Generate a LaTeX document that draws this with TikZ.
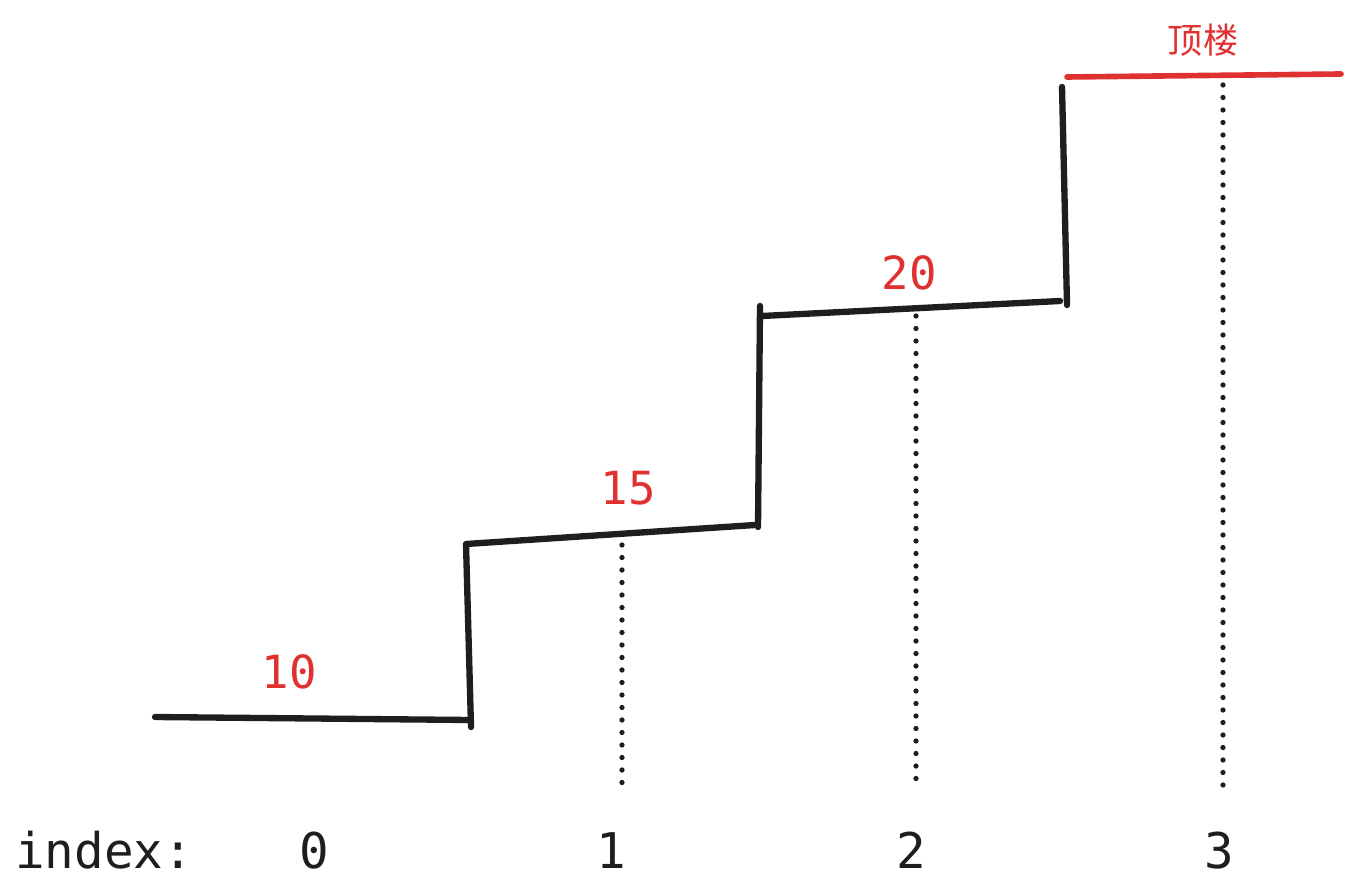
\documentclass[tikz,border=0pt]{standalone}
\usepackage{fontspec}
\usepackage{tikz}
\setmonofont{DejaVu Sans Mono}
\newfontfamily\cjk{Noto Sans CJK SC}
\definecolor{inkred}{HTML}{E03131}
\definecolor{ink}{HTML}{1E1E1E}
\tikzset{
    stair/.style={line width=3.6pt, ink, line cap=round, line join=round},
    guide/.style={line width=3pt, ink, line cap=round, dash pattern=on 0pt off 0.25cm},
    cost/.style={anchor=base, inkred, font=\ttfamily\fontsize{26}{26}\selectfont},
    idx/.style={anchor=base, ink, font=\ttfamily\fontsize{28}{28}\selectfont}
}

\begin{document}
\begin{tikzpicture}
    \useasboundingbox (0,0) rectangle (27,17.8);

    % The stair corners
    \coordinate (s0) at (3.10,3.46);
    \coordinate (s1) at (9.42,3.40);
    \coordinate (s1b) at (9.42,3.26);
    \coordinate (s1t) at (9.32,6.92);
    \coordinate (s2) at (15.10,7.30);
    \coordinate (s2b) at (15.16,7.26);
    \coordinate (s2t) at (15.20,11.68);
    \coordinate (s3) at (15.24,11.48);
    \coordinate (s4) at (21.20,11.78);
    \coordinate (s4b) at (21.34,11.70);
    \coordinate (s4t) at (21.24,16.06);

    % The steps
    \draw[stair] (s0) -- (s1);
    \draw[stair] (s1b) -- (s1t) -- (s2);
    \draw[stair] (s2b) -- (s2t);
    \draw[stair] (s3) -- (s4);
    \draw[stair] (s4b) -- (s4t);

    % The top floor
    \coordinate (top0) at (21.34,16.26);
    \coordinate (top1) at (26.82,16.32);
    \draw[line width=3.2pt, inkred, line cap=round] (top0) -- (top1);
    \node[anchor=base, inkred, font=\cjk\fontsize{20}{20}\selectfont] (toplbl) at (24.06,16.72) {顶楼};

    % The costs
    \node[cost] (c0) at (5.78,4.04) {10};
    \node[cost] (c1) at (12.56,7.72) {15};
    \node[cost] (c2) at (18.18,12.00) {20};

    % Dotted guides down to the indices
    \coordinate (g1t) at (12.44,6.90);
    \coordinate (g1b) at (12.44,2.00);
    \coordinate (g2t) at (18.32,11.48);
    \coordinate (g2b) at (18.32,2.00);
    \coordinate (g3t) at (24.46,16.10);
    \coordinate (g3b) at (24.46,2.00);
    \draw[guide] (g1t) -- (g1b);
    \draw[guide] (g2t) -- (g2b);
    \draw[guide] (g3t) -- (g3b);

    % The index row
    \node[idx, anchor=base west] (ilbl) at (0.18,0.44) {index:};
    \node[idx] (i0) at (6.28,0.44) {0};
    \node[idx] (i1) at (12.22,0.44) {1};
    \node[idx] (i2) at (18.22,0.44) {2};
    \node[idx] (i3) at (24.38,0.44) {3};
\end{tikzpicture}
\end{document}
